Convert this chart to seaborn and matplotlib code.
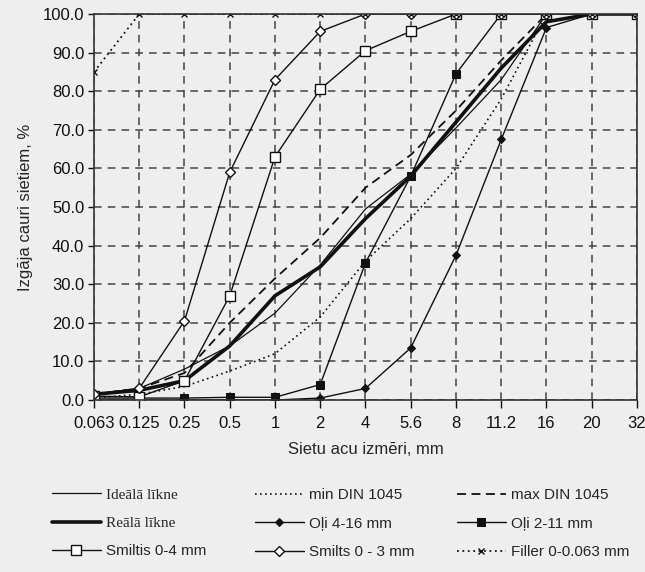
import numpy as np
import pandas as pd
import seaborn as sns
import matplotlib.pyplot as plt

sieves = ["0.063", "0.125", "0.25", "0.5", "1", "2", "4", "5.6", "8", "11.2", "16", "20", "32"]

ideal = [1.5, 3.0, 8.0, 14.0, 22.5, 35.0, 49.5, 58.5, 70.5, 83.0, 100.0, 100.0, 100.0]
real = [1.5, 2.5, 5.0, 14.0, 27.0, 34.5, 47.0, 58.0, 72.0, 86.0, 98.0, 100.0, 100.0]
din_min = [0.5, 1.5, 3.5, 7.5, 12.0, 21.5, 36.0, 47.0, 60.0, 78.0, 100.0, 100.0, 100.0]
din_max = [1.5, 3.0, 7.0, 20.0, 31.5, 42.0, 55.0, 63.5, 75.0, 88.0, 100.0, 100.0, 100.0]
oli_4_16 = [0.0, 0.0, 0.0, 0.0, 0.0, 0.5, 3.0, 13.5, 37.5, 67.5, 96.5, 100.0, 100.0]
oli_2_11 = [0.5, 0.5, 0.5, 0.7, 0.7, 4.0, 35.5, 58.0, 84.5, 100.0, 100.0, 100.0, 100.0]
smiltis_0_4 = [1.0, 0.8, 5.0, 27.0, 63.0, 80.5, 90.5, 95.5, 100.0, 100.0, 100.0, 100.0, 100.0]
smilts_0_3 = [1.5, 3.0, 20.5, 59.0, 83.0, 95.5, 100.0, 100.0, 100.0, 100.0, 100.0, 100.0, 100.0]
filler = [85.0, 100.0, 100.0, 100.0, 100.0, 100.0, 100.0, 100.0, 100.0, 100.0, 100.0, 100.0, 100.0]

sns.set_style("ticks")
plt.rcParams['font.family'] = ['Liberation Sans', 'DejaVu Sans']

bg = "#eeeeee"
fig = plt.figure(figsize=(6.45, 5.72), dpi=100, facecolor=bg)
ax = fig.add_axes([0.1457, 0.3007, 0.8419, 0.6748])
ax.set_facecolor(bg)

# name, values, line style
series = [
    ("Ideālā līkne", ideal, dict(lw=0.9, ls="-")),
    ("min DIN 1045", din_min, dict(lw=1.2, ls=(0, (1, 2)))),
    ("max DIN 1045", din_max, dict(lw=1.3, ls=(0, (5, 3)))),
    ("Reālā līkne", real, dict(lw=2.6, ls="-")),
    ("Oļi 4-16 mm", oli_4_16, dict(lw=1.0, ls="-", marker="D", ms=4.5, mfc="#111", mec="#111")),
    ("Oļi 2-11 mm", oli_2_11, dict(lw=1.0, ls="-", marker="s", ms=6, mfc="#111", mec="#111")),
    ("Smiltis 0-4 mm", smiltis_0_4, dict(lw=1.0, ls="-", marker="s", ms=7, mfc="white", mec="#111", mew=1.0)),
    ("Smilts 0 - 3 mm", smilts_0_3, dict(lw=1.0, ls="-", marker="D", ms=5.5, mfc="white", mec="#111", mew=1.0)),
    ("Filler 0-0.063 mm", filler, dict(lw=1.3, ls=(0, (1, 2)), marker="x", ms=5, mec="#111", mew=1.0)),
]

handles = {}
for name, vals, kw in series:
    df = pd.DataFrame({"sieve": sieves, "pass": vals})
    sns.lineplot(data=df, x="sieve", y="pass", ax=ax, color="#111111", label=name, sort=False, **kw)
    handles[name] = ax.get_lines()[-1]
ax.get_legend().remove()

ax.set_xlim(0, len(sieves) - 1)
ax.set_ylim(0, 100)
ax.set_yticks(np.arange(0, 101, 10))
ax.set_yticklabels([f"{v:.1f}" for v in np.arange(0, 101, 10)])
ax.grid(True, color="#444444", ls=(0, (5, 4)), lw=1.1)
ax.tick_params(labelsize=12, colors="#111")
ax.tick_params(axis="y", length=4, width=1, pad=3)
ax.tick_params(axis="x", length=6, width=1, pad=5.5)
for s in ax.spines.values():
    s.set_color("#333")
    s.set_linewidth(1.2)

ax.set_xlabel("Sietu acu izmēri, mm", fontsize=12, labelpad=8)
ax.set_ylabel("Izgāja cauri sietiem, %", fontsize=12, labelpad=7)

# three one-column legends, read row by row
columns = [
    (52, ["Ideālā līkne", "Reālā līkne", "Smiltis 0-4 mm"]),
    (255, ["min DIN 1045", "Oļi 4-16 mm", "Smilts 0 - 3 mm"]),
    (457, ["max DIN 1045", "Oļi 2-11 mm", "Filler 0-0.063 mm"]),
]
for x0, names in columns:
    leg = fig.legend([handles[n] for n in names], names, loc="upper left",
                     bbox_to_anchor=(x0 / 645, 1 - 488 / 572), frameon=False, fontsize=11,
                     handlelength=3.2, handletextpad=0.35, labelspacing=0.95,
                     borderpad=0, borderaxespad=0)
    for t in leg.get_texts():
        if t.get_text() in ("Ideālā līkne", "Reālā līkne"):
            t.set_family(["Liberation Serif", "DejaVu Serif"])

fig.savefig("out.png", dpi=100, facecolor=bg)
